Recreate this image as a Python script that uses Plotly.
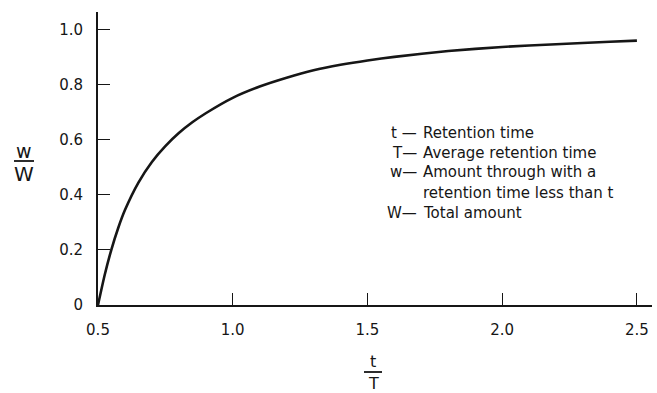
import plotly.graph_objects as go

# Data
t_ratio = [0.5, 0.525, 0.55, 0.575, 0.6, 0.65, 0.7, 0.75, 0.8, 0.85, 0.9, 1.0,
           1.1, 1.2, 1.3, 1.4, 1.5, 1.6, 1.8, 2.0, 2.2, 2.4, 2.5]
w_ratio = [0.0, 0.11, 0.2025, 0.28, 0.345, 0.445, 0.52, 0.5775, 0.625, 0.664,
           0.697, 0.753, 0.794, 0.826, 0.853, 0.873, 0.889, 0.902, 0.923, 0.938,
           0.948, 0.957, 0.961]

x_ticks = [0.5, 1.0, 1.5, 2.0, 2.5]
x_ticklabels = ["0.5", "1.0", "1.5", "2.0", "2.5"]
y_ticks = [0, 0.2, 0.4, 0.6, 0.8, 1.0]
y_ticklabels = ["0", "0.2", "0.4", "0.6", "0.8", "1.0"]

legend_keys = ["t —", "T—", "w—", "", "W—"]
legend_desc = ["Retention time", "Average retention time", "Amount through with a",
               "retention time less than t", "Total amount"]

W, H = 657, 393
ML, MR, MT, MB = 98, 5, 12, 88
PW, PH = W - ML - MR, H - MT - MB


def px(x):
    return (x - ML) / PW


def py(y):
    return (H - MB - y) / PH


FONT = "DejaVu Sans"
INK = "#161616"

fig = go.Figure()
fig.add_trace(go.Scatter(x=t_ratio, y=w_ratio, mode="lines",
                         line=dict(color=INK, width=2.6, shape="spline", smoothing=0.6),
                         hoverinfo="skip", showlegend=False))

annotations = []
shapes = []
# Key text
ys = [133, 153, 172, 193, 213]
for k, d, yy in zip(legend_keys, legend_desc, ys):
    if k:
        annotations.append(dict(x=px(419), y=py(yy), xref="paper", yref="paper", text=k,
                                showarrow=False, xanchor="right", yanchor="middle",
                                font=dict(family=FONT, size=15, color=INK)))
    annotations.append(dict(x=px(421), y=py(yy), xref="paper", yref="paper", text=d,
                            showarrow=False, xanchor="left", yanchor="middle",
                            font=dict(family=FONT, size=15, color=INK)))

# y-axis title fraction w / W
annotations.append(dict(x=px(24), y=py(151), xref="paper", yref="paper", text="w",
                        showarrow=False, xanchor="center", yanchor="middle",
                        font=dict(family=FONT, size=19, color=INK)))
annotations.append(dict(x=px(24), y=py(174), xref="paper", yref="paper", text="W",
                        showarrow=False, xanchor="center", yanchor="middle",
                        font=dict(family=FONT, size=20, color=INK)))
shapes.append(dict(type="line", xref="paper", yref="paper", x0=px(14), x1=px(34),
                   y0=py(161), y1=py(161), line=dict(color=INK, width=1.8)))

# x-axis title fraction t / T
annotations.append(dict(x=px(373), y=py(361), xref="paper", yref="paper", text="t",
                        showarrow=False, xanchor="center", yanchor="middle",
                        font=dict(family=FONT, size=16, color=INK)))
annotations.append(dict(x=px(373), y=py(383), xref="paper", yref="paper", text="T",
                        showarrow=False, xanchor="center", yanchor="middle",
                        font=dict(family=FONT, size=16, color=INK)))
shapes.append(dict(type="line", xref="paper", yref="paper", x0=px(364), x1=px(382),
                   y0=py(372), y1=py(372), line=dict(color=INK, width=1.8)))

fig.update_layout(
    width=W, height=H,
    margin=dict(l=ML, r=MR, t=MT, b=MB),
    paper_bgcolor="white", plot_bgcolor="white",
    annotations=annotations, shapes=shapes,
    font=dict(family=FONT, size=14, color=INK),
)
fig.update_xaxes(range=[0.5, 2.556], tickvals=x_ticks, ticktext=x_ticklabels,
                 ticks="inside", ticklen=12, tickwidth=1.3, tickcolor=INK,
                 showline=True, linecolor=INK, linewidth=2, showgrid=False,
                 zeroline=False, ticklabelstandoff=10,
                 tickfont=dict(family=FONT, size=15, color=INK))
fig.update_yaxes(range=[0, 1.065], tickvals=y_ticks, ticktext=y_ticklabels,
                 ticks="inside", ticklen=12, tickwidth=1.3, tickcolor=INK,
                 showline=True, linecolor=INK, linewidth=2, showgrid=False,
                 zeroline=False, ticklabelstandoff=10,
                 tickfont=dict(family=FONT, size=15, color=INK))

fig.write_html("out.html", config={"displayModeBar": False},
               post_script="document.body.style.margin='0';document.body.style.overflow='hidden';")
